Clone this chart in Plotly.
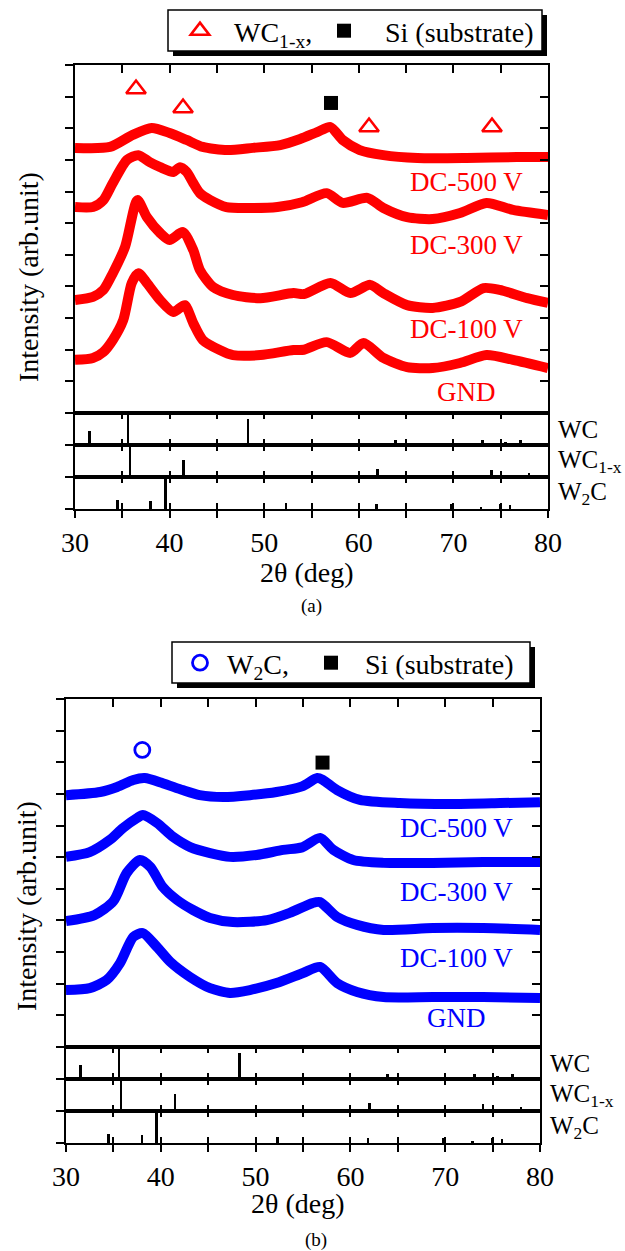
import plotly.graph_objects as go

W, H = 625, 1251
FONT = "Liberation Serif"
RED = "#ff0000"
BLUE = "#0000ff"

# ---- XRD patterns, panel (a) : stacked, offset intensity (arb. unit) ----
a500_x = [30, 33.7, 36.1, 38.1, 40.0, 41.8, 43.5, 46.1, 48.8, 51.7, 53.8, 55.6, 57.0, 58.3, 60.1, 62.6, 66.2, 71.4, 76.7, 80]
a500_y = [8.38, 8.41, 8.79, 9.01, 8.85, 8.63, 8.41, 8.31, 8.38, 8.47, 8.66, 8.88, 9.04, 8.63, 8.31, 8.15, 8.06, 8.06, 8.09, 8.09]

a300_x = [30, 31.9, 33.0, 34.0, 35.5, 36.7, 37.9, 39.0, 40.4, 41.1, 41.8, 42.5, 43.2, 44.3, 46.0, 48.2, 51.4, 54.0,
          56.6, 58.3, 60.9, 62.6, 65.1, 67.8, 70.7, 73.5, 76.3, 80]
a300_y = [6.51, 6.51, 6.73, 7.27, 8.00, 8.15, 7.93, 7.77, 7.62, 7.77, 7.62, 7.27, 6.95, 6.73, 6.51, 6.48, 6.51, 6.66,
          6.95, 6.64, 6.80, 6.48, 6.19, 6.13, 6.32, 6.64, 6.42, 6.26]

a100_x = [30, 31.9, 33.0, 34.0, 35.3, 36.6, 37.6, 39.0, 40.0, 41.4, 42.5, 43.2, 44.6, 46.7, 49.6, 53.1, 54.2, 57.0,
          59.1, 61.2, 62.6, 65.1, 67.8, 70.7, 73.2, 74.9, 77.8, 80]
a100_y = [3.57, 3.67, 3.89, 4.42, 5.26, 6.73, 6.19, 5.69, 5.47, 5.72, 5.15, 4.52, 3.98, 3.73, 3.63, 3.79, 3.76, 4.11,
          3.79, 4.05, 3.79, 3.41, 3.32, 3.51, 3.95, 3.89, 3.63, 3.48]

agnd_x = [30, 31.9, 33.0, 34.0, 35.1, 36.0, 36.7, 37.6, 39.0, 40.4, 41.6, 42.5, 43.5, 45.3, 46.7, 49.6, 53.1, 54.2,
          56.6, 59.1, 60.5, 62.6, 65.1, 67.8, 70.7, 73.5, 76.3, 80]
agnd_y = [1.68, 1.74, 1.93, 2.31, 2.94, 4.11, 4.42, 4.11, 3.57, 3.19, 3.41, 2.84, 2.31, 1.99, 1.83, 1.83, 1.99, 2.00,
          2.24, 1.90, 2.21, 1.74, 1.45, 1.42, 1.58, 1.83, 1.68, 1.42]

# ---- XRD patterns, panel (b) ----
b500_x = [30, 33.6, 35.4, 37.1, 38.3, 40.2, 42.3, 44.1, 46.6, 49.4, 52.2, 54.9, 56.5, 57.1, 58.6, 61.0, 65.2, 70.5, 75.8, 80]
b500_y = [7.96, 8.06, 8.22, 8.44, 8.50, 8.34, 8.12, 7.96, 7.90, 7.96, 8.06, 8.24, 8.50, 8.44, 8.12, 7.81, 7.71, 7.68, 7.71, 7.74]

b300_x = [30, 32.5, 34.6, 36.0, 37.5, 38.1, 39.6, 41.3, 43.1, 45.2, 47.3, 50.1, 52.9, 54.9, 56.8, 58.2, 60.3, 63.5, 68.7, 74.0, 80]
b300_y = [6.01, 6.16, 6.54, 6.92, 7.24, 7.33, 7.08, 6.64, 6.32, 6.13, 6.01, 6.07, 6.23, 6.31, 6.61, 6.23, 5.91, 5.82, 5.82, 5.85, 5.85]

b100_x = [30, 33.0, 35.0, 36.4, 37.8, 38.9, 40.2, 41.7, 43.4, 45.2, 47.6, 51.2, 53.6, 56.0, 56.8, 58.6, 60.7, 63.5, 68.7, 74.0, 80]
b100_y = [3.98, 4.17, 4.61, 5.50, 5.91, 5.69, 5.06, 4.65, 4.33, 4.08, 3.95, 4.01, 4.24, 4.55, 4.58, 4.11, 3.86, 3.70, 3.76, 3.76, 3.70]

bgnd_x = [30, 32.5, 34.3, 35.7, 37.1, 38.1, 39.6, 41.0, 43.1, 45.2, 47.3, 49.4, 52.2, 55.0, 56.8, 58.6, 60.7, 63.5, 68.7, 74.0, 80]
bgnd_y = [1.80, 1.86, 2.12, 2.65, 3.48, 3.60, 3.16, 2.69, 2.21, 1.86, 1.71, 1.80, 2.02, 2.34, 2.53, 2.02, 1.74, 1.58, 1.58, 1.58, 1.55]

sample_names = ["DC-500 V", "DC-300 V", "DC-100 V", "GND"]
label_a_y = [7.30, 5.31, 2.65, 0.66]
label_b_y = [6.92, 4.90, 2.81, 0.92]
label_a_x = 71.4
label_b_x = 71.2

# ---- phase identification markers ----
wc1x_mark_x = [36.45, 41.42, 61.08, 74.08]
wc1x_mark_y = [10.24, 9.64, 9.04, 9.04]
si_a_x, si_a_y = [57.06], [9.80]
w2c_mark_x, w2c_mark_y = [38.05], [9.39]
si_b_x, si_b_y = [57.06], [8.99]

# ---- reference patterns (relative intensity, %) ----
wc_pos = [31.5, 35.6, 48.3, 63.9, 65.8, 73.1, 75.5, 77.1]
wc_int = [44, 100, 82, 17, 6, 17, 8, 15]
wc1x_pos = [35.8, 41.5, 62.0, 74.0, 78.0]
wc1x_int = [100, 52, 26, 23, 14]
w2c_pos = [34.5, 38.0, 39.55, 52.3, 61.85, 69.8, 72.9, 75.0, 76.0]
w2c_int = [27, 24, 100, 19, 17, 15, 4, 15, 11]
ref_names = ["WC", "WC<sub>1-x</sub>", "W<sub>2</sub>C"]

x_ticks = [30, 35, 40, 45, 50, 55, 60, 65, 70, 75, 80]
x_tick_text = ["30", "", "40", "", "50", "", "60", "", "70", "", "80"]
y_ticks = list(range(0, 12))


def fx(p):
    return p / W


def fy(p):
    return 1 - p / H


fig = go.Figure()

# panel geometry in pixels
A = dict(left=75, right=548, top=65, bottom=413, sticks=[413, 445, 477, 509])
B = dict(left=66, right=540, top=699, bottom=1047, sticks=[1047, 1079, 1111, 1143])


def add_pattern(x, y, color, xa, ya):
    fig.add_trace(go.Scatter(x=x, y=y, mode="lines", xaxis=xa, yaxis=ya, showlegend=False,
                             line=dict(color=color, width=10, shape="spline", smoothing=0.7),
                             hoverinfo="skip"))


for xs, ys in [(a500_x, a500_y), (a300_x, a300_y), (a100_x, a100_y), (agnd_x, agnd_y)]:
    add_pattern(xs, ys, RED, "x", "y")
for xs, ys in [(b500_x, b500_y), (b300_x, b300_y), (b100_x, b100_y), (bgnd_x, bgnd_y)]:
    add_pattern(xs, ys, BLUE, "x5", "y5")

# phase markers; each one also gets its own single-entry legend
fig.add_trace(go.Scatter(x=wc1x_mark_x, y=wc1x_mark_y, mode="markers", xaxis="x", yaxis="y",
                         name="&#160;&#160;WC<sub>1-x</sub>,", legend="legend",
                         marker=dict(symbol="triangle-up-open", size=17, color=RED, line=dict(width=2.6, color=RED))))
fig.add_trace(go.Scatter(x=si_a_x, y=si_a_y, mode="markers", xaxis="x", yaxis="y",
                         name="&#160;&#160;&#160;Si (substrate)", legend="legend2",
                         marker=dict(symbol="square", size=14, color="black")))
fig.add_trace(go.Scatter(x=w2c_mark_x, y=w2c_mark_y, mode="markers", xaxis="x5", yaxis="y5",
                         name="&#160;W<sub>2</sub>C,", legend="legend3",
                         marker=dict(symbol="circle-open", size=15, color=BLUE, line=dict(width=2.8, color=BLUE))))
fig.add_trace(go.Scatter(x=si_b_x, y=si_b_y, mode="markers", xaxis="x5", yaxis="y5",
                         name="&#160;&#160;Si (substrate)", legend="legend4",
                         marker=dict(symbol="square", size=14, color="black")))

# reference stick patterns
refs = [(wc_pos, wc_int), (wc1x_pos, wc1x_int), (w2c_pos, w2c_int)]
for i, (pos, inten) in enumerate(refs):
    for xa, ya in [(f"x{2 + i}", f"y{2 + i}"), (f"x{6 + i}", f"y{6 + i}")]:
        fig.add_trace(go.Bar(x=pos, y=inten, width=0.28, xaxis=xa, yaxis=ya, showlegend=False,
                             marker=dict(color="black", line=dict(width=0)), hoverinfo="skip"))

# empty traces so the overlay tick axes get drawn
for xa, ya in [("x", "y9"), ("x5", "y10"), ("x9", "y4"), ("x10", "y8")]:
    fig.add_trace(go.Scatter(x=[], y=[], xaxis=xa, yaxis=ya, showlegend=False))

axis_line = dict(showline=True, linecolor="black", linewidth=1.6, showgrid=False, zeroline=False,
                 tickcolor="black", tickwidth=1.6)

layout = dict(width=W, height=H, margin=dict(l=0, r=0, t=0, b=0, autoexpand=False),
              paper_bgcolor="white", plot_bgcolor="white",
              font=dict(family=FONT, size=26, color="black"), showlegend=True, bargap=0)


def build_panel(P, xi, yi, overlay_y, overlay_x):
    dom_x = [fx(P["left"]), fx(P["right"])]
    # main pattern axes
    layout[f"xaxis{'' if xi == 1 else xi}"] = dict(axis_line, domain=dom_x, range=[30, 80], side="top",
                                                   anchor=f"y{'' if yi == 1 else yi}", mirror=True,
                                                   ticks="inside", ticklen=8, tickvals=x_ticks,
                                                   showticklabels=False)
    layout[f"yaxis{'' if yi == 1 else yi}"] = dict(axis_line, domain=[fy(P["bottom"]), fy(P["top"])],
                                                   range=[0, 11], anchor=f"x{'' if xi == 1 else xi}",
                                                   mirror=True, ticks="outside", ticklen=8, tickvals=y_ticks,
                                                   showticklabels=False)
    layout[f"yaxis{overlay_y}"] = dict(overlaying=f"y{'' if yi == 1 else yi}", side="right", range=[0, 11],
                                       anchor=f"x{'' if xi == 1 else xi}", showline=False, showgrid=False,
                                       zeroline=False, ticks="inside", ticklen=8, tickvals=y_ticks,
                                       tickcolor="black", tickwidth=1.6, showticklabels=False)
    s = P["sticks"]
    for k in range(3):
        xk, yk = xi + 1 + k, yi + 1 + k
        layout[f"xaxis{xk}"] = dict(axis_line, domain=dom_x, range=[30, 80], anchor=f"y{yk}", mirror="ticks",
                                    ticks="inside", ticklen=6, tickvals=x_ticks, showticklabels=False)
        layout[f"yaxis{yk}"] = dict(axis_line, domain=[fy(s[k + 1]), fy(s[k])], range=[0, 100],
                                    anchor=f"x{xk}", mirror=True, ticks="outside", ticklen=8, tickvals=[0],
                                    showticklabels=False)
    last_y = yi + 3
    layout[f"xaxis{overlay_x}"] = dict(overlaying=f"x{xi + 3}", anchor=f"y{last_y}", range=[30, 80], side="bottom",
                                       showline=False, showgrid=False, zeroline=False, ticks="outside", ticklen=8,
                                       tickvals=x_ticks, ticktext=x_tick_text, tickcolor="black", tickwidth=1.6,
                                       tickfont=dict(family=FONT, size=28, color="black"))


build_panel(A, 1, 1, 9, 9)
build_panel(B, 5, 5, 10, 10)

# legend entries (the framed boxes with drop shadow are shapes behind them)
legend_font = dict(family=FONT, size=28, color="black")
for key, lx, ly in [("legend", 180, 6), ("legend2", 324, 6), ("legend3", 180, 638), ("legend4", 311, 638)]:
    layout[key] = dict(orientation="h", x=fx(lx), y=fy(ly), xanchor="left", yanchor="top",
                       bgcolor="rgba(0,0,0,0)", borderwidth=0, font=legend_font,
                       itemclick=False, itemdoubleclick=False)

shapes = []
for (x0, y0, x1, y1) in [(168, 10, 542, 51), (172, 642, 530, 683)]:
    shapes.append(dict(type="rect", xref="paper", yref="paper", x0=fx(x0 + 5), x1=fx(x1 + 5),
                       y0=fy(y0 + 5), y1=fy(y1 + 5), fillcolor="black", line=dict(width=0), layer="below"))
    shapes.append(dict(type="rect", xref="paper", yref="paper", x0=fx(x0), x1=fx(x1), y0=fy(y0), y1=fy(y1),
                       fillcolor="white", line=dict(color="black", width=1.5), layer="below"))
layout["shapes"] = shapes


def paper_text(cx, cy, text, size, angle=0, xanchor="center"):
    return dict(x=fx(cx), y=fy(cy), xref="paper", yref="paper", text=text, showarrow=False, textangle=angle,
                xanchor=xanchor, yanchor="middle", font=dict(family=FONT, size=size, color="black"))


ann = []
for name, ly in zip(sample_names, label_a_y):
    ann.append(dict(x=label_a_x, y=ly, xref="x", yref="y", text=name, showarrow=False,
                    xanchor="center", yanchor="middle", font=dict(family=FONT, size=27, color=RED)))
for name, ly in zip(sample_names, label_b_y):
    ann.append(dict(x=label_b_x, y=ly, xref="x5", yref="y5", text=name, showarrow=False,
                    xanchor="center", yanchor="middle", font=dict(family=FONT, size=27, color=BLUE)))
for P, lx in [(A, 556), (B, 548)]:
    s = P["sticks"]
    for k, nm in enumerate(ref_names):
        ann.append(paper_text(lx, (s[k] + s[k + 1]) / 2, nm, 25, xanchor="left"))
for cx, cy in [(28, 277), (26, 906)]:
    ann.append(paper_text(cx, cy, "Intensity (arb.unit)", 28, angle=-90))
for cx, cy in [(307, 572), (298, 1203)]:
    ann.append(paper_text(cx, cy, "2θ (deg)", 28))
for cx, cy, t in [(311, 606, "(a)"), (316, 1240, "(b)")]:
    ann.append(paper_text(cx, cy, t, 19))
layout["annotations"] = ann

fig.update_layout(layout)
fig.write_html("out.html")
